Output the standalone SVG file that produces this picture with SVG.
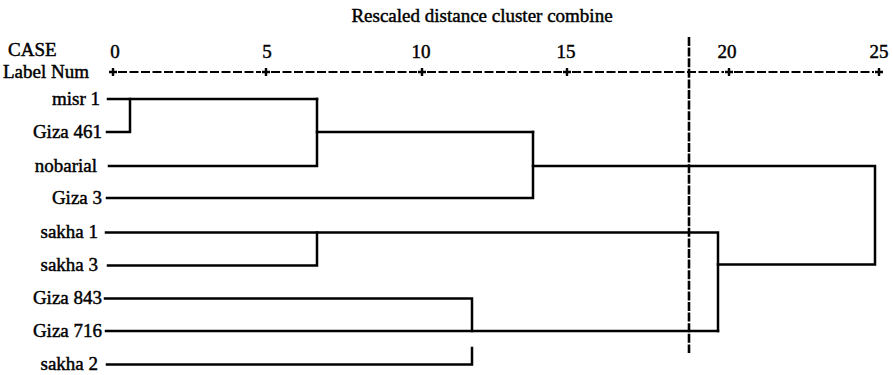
<svg xmlns="http://www.w3.org/2000/svg" width="893" height="375" viewBox="0 0 893 375">
  <style>
    text { font-family: "Times New Roman", Times, "Liberation Serif", "DejaVu Serif", serif; font-size: 19px; fill: #000; stroke: #000; stroke-width: 0.45; }
    .lbl { text-anchor: end; }
    .num { text-anchor: middle; }
    .ln { stroke: #000; stroke-width: 2.5; fill: none; stroke-linecap: square; }
    .axis { stroke: #000; stroke-width: 2.2; fill: none; stroke-dasharray: 9 2.5; }
    .tick { stroke: #000; stroke-width: 2.4; fill: none; }
    .cut { stroke: #000; stroke-width: 2.6; fill: none; stroke-dasharray: 9 1.6; }
  </style>
  <rect width="893" height="375" fill="#fff"/>

  <!-- header and scale -->
  <g id="scale">
    <text x="482" y="22" class="num">Rescaled distance cluster combine</text>
    <text x="8" y="56">CASE</text>
    <text x="3" y="78">Label Num</text>
    <text x="115" y="58" class="num">0</text>
    <text x="267" y="58" class="num">5</text>
    <text x="421" y="58" class="num">10</text>
    <text x="566" y="58" class="num">15</text>
    <text x="727" y="58" class="num">20</text>
    <text x="879" y="58" class="num">25</text>
    <path class="axis" d="M118 72H261 M271 72H417 M427 72H562 M572 72H724 M734 72H874"/>
    <path class="tick" d="M109 72h8M113 68v8 M262 72h8M266 68v8 M418 72h8M422 68v8 M563 72h8M567 68v8 M725 72h8M729 68v8 M875 72h8M879 68v8"/>
  </g>

  <!-- case labels -->
  <g id="misr1"><text x="100" y="105" class="lbl">misr 1</text></g>
  <g id="giza461"><text x="102" y="138" class="lbl">Giza 461</text></g>
  <g id="nobarial"><text x="97" y="172" class="lbl">nobarial</text></g>
  <g id="giza3"><text x="102" y="204" class="lbl">Giza 3</text></g>
  <g id="sakha1"><text x="98" y="238" class="lbl">sakha 1</text></g>
  <g id="sakha3"><text x="98" y="271" class="lbl">sakha 3</text></g>
  <g id="giza843"><text x="102" y="304" class="lbl">Giza 843</text></g>
  <g id="giza716"><text x="102" y="337" class="lbl">Giza 716</text></g>
  <g id="sakha2"><text x="98" y="370" class="lbl">sakha 2</text></g>

  <!-- dendrogram branches -->
  <g id="connectors">
    <path class="ln" d="M108 99H317"/>
    <path class="ln" d="M107 132H130V99"/>
    <path class="ln" d="M109 166H317V99"/>
    <path class="ln" d="M317 132H533"/>
    <path class="ln" d="M107 198H533V132"/>
    <path class="ln" d="M533 166H875V264.5H718"/>
    <path class="ln" d="M106 232.5H718V331"/>
    <path class="ln" d="M108 265.5H317V232.5"/>
    <path class="ln" d="M105 298.5H472V331"/>
    <path class="ln" d="M106 331H718"/>
    <path class="ln" d="M107 364.5H472V348"/>
  </g>

  <!-- cut-off line -->
  <g id="cutline">
    <path class="cut" d="M689 37V353"/>
  </g>
</svg>
